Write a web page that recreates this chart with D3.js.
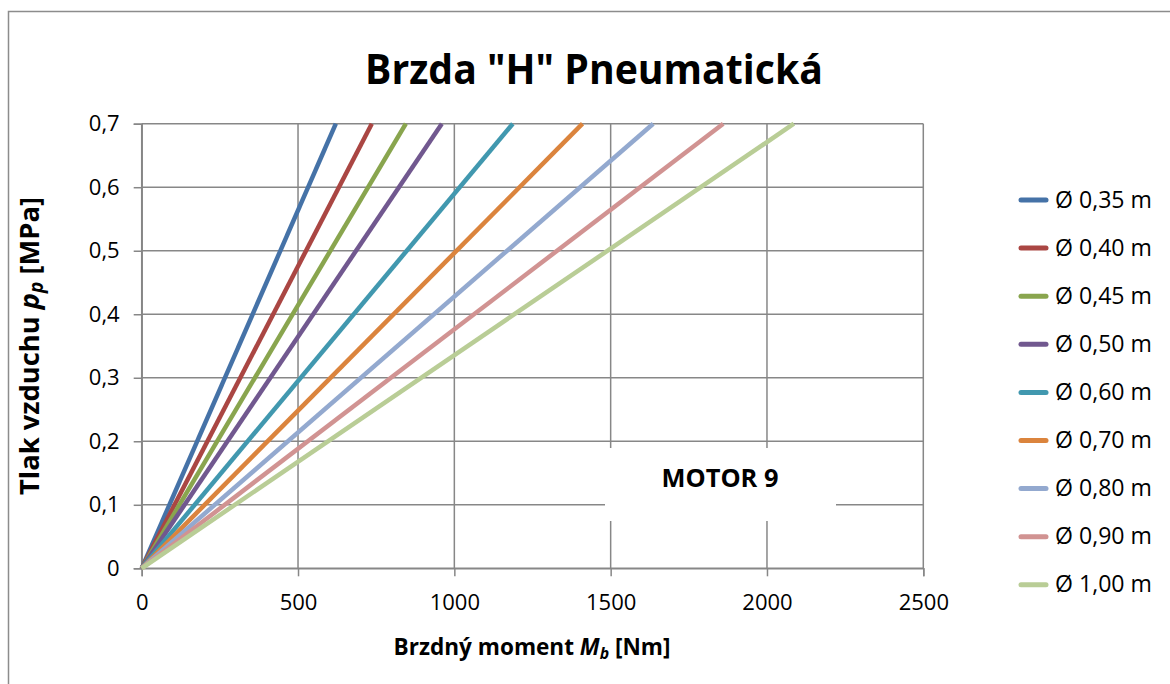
<!DOCTYPE html>
<html>
<head>
<meta charset="utf-8">
<script src="https://cdn.jsdelivr.net/npm/d3@7"></script>
<style>
  html, body { margin: 0; padding: 0; background: #fff; }
  svg { display: block; font-family: "Open Sans", "DejaVu Sans", sans-serif; }
</style>
</head>
<body>
<svg id="chart" width="1170" height="684"></svg>
<script>
// ---- Data ----
const seriesNames = ["Ø 0,35 m", "Ø 0,40 m", "Ø 0,45 m", "Ø 0,50 m", "Ø 0,60 m", "Ø 0,70 m", "Ø 0,80 m", "Ø 0,90 m", "Ø 1,00 m"];
const momentAtMaxPressure = [621, 736, 845, 960, 1187, 1410, 1636, 1860, 2086]; // Nm at 0.7 MPa
const pressureRange = [0, 0.7]; // MPa
const xTicks = [0, 500, 1000, 1500, 2000, 2500];
const yTicks = [0, 0.1, 0.2, 0.3, 0.4, 0.5, 0.6, 0.7];
const colors = ["#4572A7", "#AA4643", "#89A54E", "#71588F", "#4198AF", "#DB843D", "#93A9CF", "#D19392", "#B9CD96"];
const titleText = 'Brzda "H" Pneumatická';
const noteText = "MOTOR 9";

// ---- Layout ----
const svg = d3.select("#chart");
const plot = { left: 141.7, right: 923.3, top: 123.7, bottom: 568.3 };
const x = d3.scaleLinear().domain([0, 2500]).range([plot.left, plot.right]);
const y = d3.scaleLinear().domain([0, 0.7]).range([plot.bottom, plot.top]);
const gridColor = "#878787";

function fitWidth(sel, target) {
  const w = sel.node().getBBox().width;
  const fs = parseFloat(sel.attr("font-size"));
  sel.attr("font-size", fs * target / w);
}

// outer border
svg.append("rect").attr("x", 8.5).attr("y", 11.5).attr("width", 1200).attr("height", 700)
  .attr("fill", "none").attr("stroke", "#8c8c8c").attr("stroke-width", 1.5);

// title (condensed horizontally to mimic a narrow bold face)
const titleG = svg.append("g").attr("transform", "translate(594,84)");
const title = titleG.append("text").attr("x", 0).attr("y", 0).attr("text-anchor", "middle")
  .attr("font-weight", "bold").attr("font-size", 42).attr("fill", "#000").text(titleText);
const tw = title.node().getBBox().width;
title.attr("transform", `scale(${458 / tw},1)`);

// gridlines
svg.append("g").selectAll("line").data(yTicks).join("line")
  .attr("x1", plot.left).attr("x2", plot.right)
  .attr("y1", d => y(d)).attr("y2", d => y(d))
  .attr("stroke", gridColor).attr("stroke-width", 1.5);
svg.append("g").selectAll("line").data(xTicks).join("line")
  .attr("y1", plot.top).attr("y2", plot.bottom)
  .attr("x1", d => x(d)).attr("x2", d => x(d))
  .attr("stroke", gridColor).attr("stroke-width", 1.5);

// axes
const xAxis = d3.axisBottom(x).tickValues(xTicks).tickSize(8).tickPadding(8).tickFormat(d3.format("d"));
const gx = svg.append("g").attr("transform", `translate(0,${plot.bottom})`).call(xAxis);
const yAxis = d3.axisLeft(y).tickValues(yTicks).tickSize(8).tickPadding(14)
  .tickFormat(d => d === 0 ? "0" : d3.format(".1f")(d).replace(".", ","));
const gy = svg.append("g").attr("transform", `translate(${plot.left},0)`).call(yAxis);
[gx, gy].forEach(g => {
  g.select(".domain").attr("stroke", gridColor).attr("stroke-width", 1.5);
  g.selectAll(".tick line").attr("stroke", gridColor).attr("stroke-width", 1.5);
  g.selectAll(".tick text").attr("font-size", 22).attr("fill", "#000")
    .attr("font-family", '"Open Sans", sans-serif');
});
gx.selectAll(".tick text").attr("dy", "1.15em");

// note box
svg.append("rect").attr("x", 605).attr("y", 448).attr("width", 231).attr("height", 73).attr("fill", "#fff");
const note = svg.append("text").attr("x", 720).attr("y", 487).attr("text-anchor", "middle")
  .attr("font-weight", "bold").attr("font-size", 20).text(noteText);
fitWidth(note, 117);

// series lines
const line = d3.line().x(d => x(d[0])).y(d => y(d[1]));
const series = seriesNames.map((name, i) => ({
  name, color: colors[i],
  points: [[0, pressureRange[0]], [momentAtMaxPressure[i], pressureRange[1]]]
}));
svg.append("g").selectAll("path").data(series).join("path")
  .attr("d", d => line(d.points)).attr("fill", "none")
  .attr("stroke", d => d.color).attr("stroke-width", 4.5);

// legend
const lg = svg.append("g");
const rows = lg.selectAll("g").data(series).join("g")
  .attr("transform", (d, i) => `translate(0,${200 + i * 48.1})`);
rows.append("line").attr("x1", 1021).attr("x2", 1046).attr("y1", 0).attr("y2", 0)
  .attr("stroke", d => d.color).attr("stroke-width", 5).attr("stroke-linecap", "round");
rows.append("text").attr("x", 1055).attr("y", 7.5).attr("font-size", 20).text(d => d.name);
const t0 = rows.select("text").filter((d, i) => i === 0);
const w0 = t0.node().getBBox().width;
rows.selectAll("text").attr("font-size", 20 * 97 / w0);

// axis titles
const xt = svg.append("text").attr("x", 532).attr("y", 655).attr("text-anchor", "middle")
  .attr("font-weight", "bold").attr("font-size", 18);
xt.append("tspan").text("Brzdný moment ");
xt.append("tspan").attr("font-style", "italic").text("M");
xt.append("tspan").attr("font-style", "italic").attr("font-size", "0.7em").attr("dy", 4).text("b");
xt.append("tspan").attr("dy", -4).text(" [Nm]");
fitWidth(xt, 277);

const yt = svg.append("text").attr("transform", "translate(39,346) rotate(-90)").attr("text-anchor", "middle")
  .attr("font-weight", "bold").attr("font-size", 18);
yt.append("tspan").text("Tlak vzduchu ");
yt.append("tspan").attr("font-style", "italic").text("p");
yt.append("tspan").attr("font-style", "italic").attr("font-size", "0.7em").attr("dy", 4).text("p");
yt.append("tspan").attr("dy", -4).text(" [MPa]");
fitWidth(yt, 298);
</script>
</body>
</html>
